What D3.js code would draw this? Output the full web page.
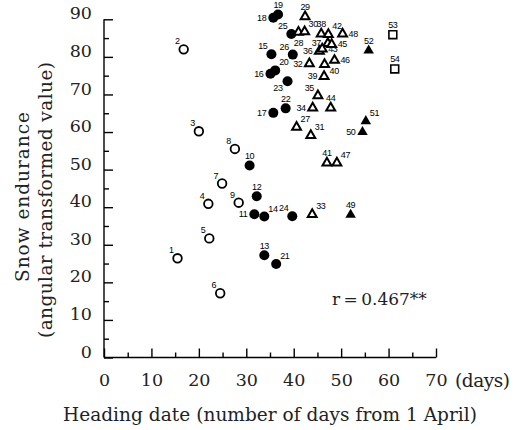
<!DOCTYPE html>
<meta charset="utf-8">
<title>Snow endurance vs heading date</title>
<style>
body {
  margin: 0px;
  background: #fff;
}
svg {
  display: block;
  background: #fff;
}
.axis path, .axis line {
  stroke: #000;
  stroke-width: 1.4px;
}
.axis text {
  font-family: "DejaVu Serif", serif;
  font-size: 17.5px;
  fill: #222;
}
.title {
  font-family: "DejaVu Serif", serif;
  font-size: 18.5px;
  fill: #222;
}
.lab {
  font-family: "Liberation Sans", Arial, sans-serif;
  font-size: 9px;
  letter-spacing: -0.4px;
  fill: #000;
}
</style>

<script src="https://d3js.org/d3.v7.min.js"></script>

<body>
<script>
var width = 520, height = 430;

// cultivar numbers, heading date (days from 1 April), snow endurance
var ids = [1, 2, 3, 4, 5, 6, 7, 8, 9, 10, 11, 12, 13, 14, 15, 16, 17, 18,
  19, 20, 21, 22, 23, 24, 25, 26, 27, 28, 29, 30, 31, 32, 33, 34, 35, 36,
  37, 38, 39, 40, 41, 42, 43, 44, 45, 46, 47, 48, 49, 50, 51, 52, 53, 54];
var heading = [15.5, 16.8, 20.0, 22.0, 22.2, 24.5, 24.9, 27.6, 28.4, 30.7,
  31.7, 32.2, 33.8, 33.8, 35.3, 35.1, 35.7, 35.7, 36.7, 36.1, 36.3, 38.3,
  38.7, 39.7, 39.5, 39.8, 40.6, 41.0, 42.4, 42.3, 43.6, 43.3, 43.9, 44.0,
  45.1, 45.4, 47.2, 45.8, 46.4, 46.5, 47.0, 47.3, 46.0, 47.8, 48.0, 48.6,
  49.1, 50.3, 52.0, 54.5, 55.2, 55.8, 60.9, 61.3];
var endurance = [26.4, 82.0, 60.2, 40.9, 31.7, 17.1, 46.3, 55.5, 41.2, 51.1,
  38.1, 42.9, 27.2, 37.5, 80.7, 75.5, 65.1, 90.4, 91.3, 76.4, 24.9, 66.3,
  73.5, 37.6, 86.1, 80.6, 61.3, 86.6, 90.7, 86.7, 59.1, 78.2, 38.1, 66.4,
  69.7, 81.5, 83.6, 86.1, 74.8, 78.0, 51.8, 86.0, 82.1, 66.4, 83.3, 79.1,
  51.8, 86.1, 38.0, 60.0, 62.9, 81.7, 85.9, 76.8];
// marker group: oc open circle, fc filled circle, ot open triangle,
// ft filled triangle, os open square
var group = ["oc", "oc", "oc", "oc", "oc", "oc", "oc", "oc", "oc", "fc",
  "fc", "fc", "fc", "fc", "fc", "fc", "fc", "fc", "fc", "fc", "fc", "fc",
  "fc", "fc", "fc", "fc", "ot", "ot", "ot", "ot", "ot", "ot", "ot", "ot",
  "ot", "ot", "ot", "ot", "ot", "ot", "ot", "ot", "ot", "ot", "ot", "ot",
  "ot", "ot", "ft", "ft", "ft", "ft", "os", "os"];
// which side of the marker the number is written on
var labelSide = ["ul", "ul", "ul", "ul", "ul", "ul", "ul", "ul", "ul", "u",
  "l", "u", "u", "ur", "ul", "l", "l", "l", "u", "ur", "ur", "u", "dl", "ul",
  "ul", "ul", "ur", "d", "u", "ur", "ur", "l", "ur", "l", "ul", "l", "l", "u",
  "l", "dr", "u", "ur", "r", "u", "r", "r", "ur", "r", "u", "l", "ur", "u",
  "u", "u"];

var xTicks = [0, 10, 20, 30, 40, 50, 60, 70];
var yTicks = [0, 10, 20, 30, 40, 50, 60, 70, 80, 90];

var points = ids.map(function(d, i) {
  return {id: d, x: heading[i], y: endurance[i], g: group[i], side: labelSide[i]};
});

var svg = d3.select("body").append("svg")
    .attr("width", width)
    .attr("height", height);

var x = d3.scaleLinear().domain([0, 70]).range([104, 436]);
var y = d3.scaleLinear().domain([0, 90]).range([357.5, 19.3]);

// minor ticks every 5
svg.append("g")
    .attr("class", "axis")
    .attr("transform", "translate(0," + y(0) + ")")
    .call(d3.axisBottom(x).tickValues(d3.range(5, 70, 10)).tickSize(-5).tickFormat(""))
    .select(".domain").remove();
svg.append("g")
    .attr("class", "axis")
    .attr("transform", "translate(" + x(0) + ",0)")
    .call(d3.axisLeft(y).tickValues(d3.range(5, 90, 10)).tickSize(-5).tickFormat(""))
    .select(".domain").remove();

var xAxis = svg.append("g")
    .attr("class", "axis")
    .attr("transform", "translate(0," + y(0) + ")")
    .call(d3.axisBottom(x).tickValues(xTicks).tickSizeInner(-9).tickSizeOuter(0)
      .tickPadding(16).tickFormat(d3.format("d")));
xAxis.select(".domain").attr("d", "M" + x(0) + ",0H" + x(70));

var yAxis = svg.append("g")
    .attr("class", "axis")
    .attr("transform", "translate(" + x(0) + ",0)")
    .call(d3.axisLeft(y).tickValues(yTicks).tickSizeInner(-9).tickSizeOuter(0)
      .tickPadding(12).tickFormat(d3.format("d")));
yAxis.select(".domain").attr("d", "M0," + y(0) + "V" + y(90));
yAxis.selectAll("text").attr("y", -6);

svg.selectAll(".axis text").attr("font-family", null).attr("font-size", null);

svg.append("text")
    .attr("class", "title")
    .attr("x", 455)
    .attr("y", 387)
    .attr("textLength", 55)
    .text("(days)");

svg.append("text")
    .attr("class", "title")
    .attr("x", 270)
    .attr("y", 421)
    .attr("text-anchor", "middle")
    .attr("textLength", 414)
    .text("Heading date (number of days from 1 April)");

svg.append("text")
    .attr("class", "title")
    .attr("transform", "translate(29,197) rotate(-90)")
    .attr("text-anchor", "middle")
    .attr("textLength", 170)
    .text("Snow endurance");
svg.append("text")
    .attr("class", "title")
    .attr("transform", "translate(52,200) rotate(-90)")
    .attr("text-anchor", "middle")
    .attr("textLength", 276)
    .text("(angular transformed value)");

svg.append("text")
    .attr("class", "title")
    .attr("x", 332)
    .attr("y", 305)
    .style("font-size", "17px")
    .text("r\u2009=\u20090.467**");

// markers
var marks = svg.append("g");
var tri = d3.symbol().type(d3.symbolTriangle);
var sq = d3.symbol().type(d3.symbolSquare).size(62);

marks.selectAll("g.pt")
    .data(points)
  .enter().append("g")
    .attr("class", "pt")
    .attr("transform", function(d) { return "translate(" + x(d.x) + "," + y(d.y) + ")"; })
    .each(function(d) {
      var g = d3.select(this);
      if (d.g == "oc") {
        g.append("circle").attr("r", 4.3).attr("fill", "#fff")
          .attr("stroke", "#000").attr("stroke-width", 1.8);
      } else if (d.g == "fc") {
        g.append("circle").attr("r", 5).attr("fill", "#000");
      } else if (d.g == "ot") {
        g.append("path").attr("d", tri.size(34)()).attr("fill", "#fff")
          .attr("stroke", "#000").attr("stroke-width", 2);
      } else if (d.g == "ft") {
        g.append("path").attr("d", tri.size(48)()).attr("fill", "#000");
      } else {
        g.append("path").attr("d", sq()).attr("fill", "#fff")
          .attr("stroke", "#000").attr("stroke-width", 1.6);
      }
    });

// number labels
var offs = {
  ul: [-4, -5, "end"], u: [0, -6.5, "middle"], ur: [4, -5, "start"],
  l: [-7, 3, "end"], r: [6, 3, "start"], d: [0, 14, "middle"],
  dr: [5, 10, "start"], dl: [-5, 10, "end"]
};
marks.selectAll("text.lab")
    .data(points)
  .enter().append("text")
    .attr("class", "lab")
    .attr("x", function(d) { return x(d.x) + offs[d.side][0]; })
    .attr("y", function(d) { return y(d.y) + offs[d.side][1]; })
    .attr("text-anchor", function(d) { return offs[d.side][2]; })
    .text(function(d) { return d.id; });
</script>
